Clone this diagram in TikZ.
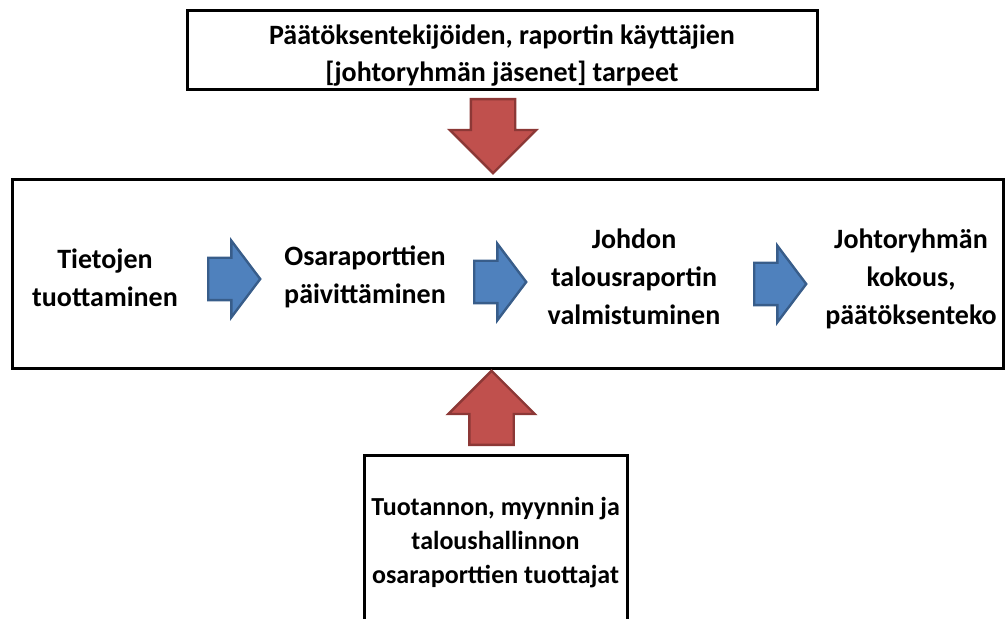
\documentclass[tikz,border=0pt]{standalone}
\usepackage{fontspec}
\setmainfont{Carlito}
\usetikzlibrary{shapes.arrows}
\definecolor{redfill}{HTML}{C0504D}
\definecolor{redline}{HTML}{8C3836}
\definecolor{bluefill}{HTML}{4F81BD}
\definecolor{blueline}{HTML}{385D8A}

\begin{document}
\begin{tikzpicture}[x=0.5pt,y=-0.5pt,
    box/.style={draw,line width=1.5pt,inner sep=0pt},
    phase/.style={align=center,font=\bfseries\fontsize{14}{19}\selectfont},
    bluearrow/.style={single arrow,draw=blueline,fill=bluefill,line width=1.2pt,inner xsep=0pt,inner ysep=10pt,
      minimum height=26pt,single arrow head extend=8.5pt,single arrow tip angle=106,anchor=tail},
    redarrow/.style={single arrow,draw=redline,fill=redfill,line width=1.2pt,inner xsep=0pt,inner ysep=10.5pt,
      minimum height=37pt,single arrow head extend=10.5pt,single arrow tip angle=90,anchor=tail}]
  \useasboundingbox (0,0) rectangle (1005,619);
  \clip (0,0) rectangle (1005,619);
  % boxes
  \node[box,minimum width=315pt,minimum height=39.5pt] (tarpeet) at (502,50.5) {};
  \node[align=center,font=\bfseries\fontsize{14}{18.5}\selectfont] (tarpeetteksti) at (502,55.5)
    {Päätöksentekijöiden, raportin käyttäjien\\{}{[}johtoryhmän jäsenet{]} tarpeet};
  \node[box,minimum width=495.5pt,minimum height=94.5pt] (main) at (507.5,274.5) {};
  \node[box,minimum width=131.5pt,minimum height=87.5pt,align=center,
    font=\bfseries\fontsize{13}{17}\selectfont] (tuottajat) at (495.5,542.5)
    {Tuotannon, myynnin ja\\taloushallinnon\\osaraporttien tuottajat};
  % phases
  \node[phase] (tiedot) at (105,278) {Tietojen\\tuottaminen};
  \node[phase] (osarap) at (365,277) {Osaraporttien\\päivittäminen};
  \node[phase] (raportti) at (634,277) {Johdon\\talousraportin\\valmistuminen};
  \node[phase] (kokous) at (911,279) {Johtoryhmän\\kokous,\\päätöksenteko};
  \foreach \x/\y/\n in {207/279/a1,473/282/a2,753/284/a3}
    \node[bluearrow] (\n) at (\x,\y) {};
  \node[redarrow,rotate=-90] (dn) at (493,98) {};
  \node[redarrow,rotate=90] (up) at (491.5,446) {};
\end{tikzpicture}
\end{document}
